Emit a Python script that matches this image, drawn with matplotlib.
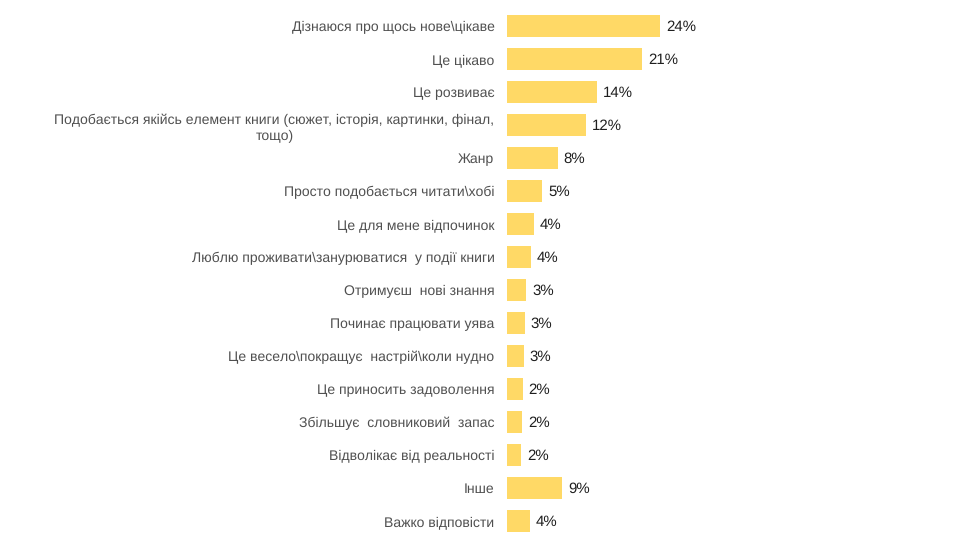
import matplotlib
matplotlib.use("Agg")
import matplotlib.pyplot as plt

# reasons for liking to read (share of answers, %)
categories = [
    "Дізнаюся про щось нове\\цікаве",
    "Це цікаво",
    "Це розвиває",
    "Подобається якійсь елемент книги (сюжет, історія, картинки, фінал,\nтощо)",
    "Жанр",
    "Просто подобається читати\\хобі",
    "Це для мене відпочинок",
    "Люблю проживати\\занурюватися  у події книги",
    "Отримуєш  нові знання",
    "Починає працювати уява",
    "Це весело\\покращує  настрій\\коли нудно",
    "Це приносить задоволення",
    "Збільшує  словниковий  запас",
    "Відволікає від реальності",
    "Інше",
    "Важко відповісти",
]
values = [24.0, 21.2, 14.1, 12.4, 7.95, 5.5, 4.2, 3.7, 3.0, 2.8, 2.6, 2.45, 2.35, 2.2, 8.6, 3.6]
value_labels = ["24%", "21%", "14%", "12%", "8%", "5%", "4%", "4%", "3%", "3%",
                "3%", "2%", "2%", "2%", "9%", "4%"]

plt.rcParams['font.family'] = ['Liberation Sans', 'DejaVu Sans']
plt.rcParams['text.hinting'] = 'no_hinting'
plt.rcParams['text.hinting_factor'] = 1

W, H = 968, 544
fig = plt.figure(figsize=(W / 100, H / 100), dpi=100)
px_per_unit = 6.375
ax_left = 507
ax_w = 400
ax = fig.add_axes([ax_left / W, 0, ax_w / W, 1])

y_pos = list(range(len(categories)))
ax.barh(y_pos, values, height=0.66, color="#FFD966")
ax.set_xlim(0, ax_w / px_per_unit)
ax.set_ylim((H - 26) / 33, -26 / 33)

for y, v, lab in zip(y_pos, values, value_labels):
    ax.text(v + 6 / px_per_unit, y + 0.03, lab, va="center", ha="left",
            fontsize=10.5, color="#1f1f1f")

ax.set_yticks(y_pos)
ax.set_yticklabels(categories, fontsize=10.2, color="#505050",
                   multialignment="center", linespacing=1.3)
ax.tick_params(axis="y", length=0, pad=9)
ax.set_xticks([])
for s in ax.spines.values():
    s.set_visible(False)

fig.savefig("out.png", dpi=100)
